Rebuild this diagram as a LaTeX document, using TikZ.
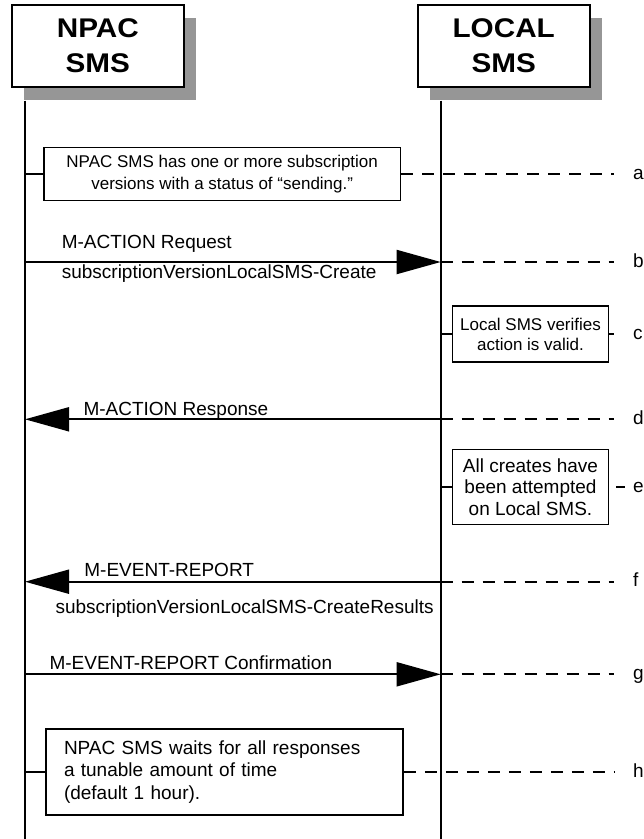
\documentclass[tikz,border=0pt]{standalone}
\usepackage{fontspec}
\setmainfont{Liberation Sans}
\newfontfamily\titlefnt[FakeStretch=1.1]{Liberation Sans}
\usetikzlibrary{arrows.meta,shadows}
\definecolor{shadowgray}{RGB}{150,150,150}
\newcommand\bodyfnt{\fontsize{19}{22.5}\selectfont}
\newcommand\smallfnt{\fontsize{17}{20}\selectfont}
\begin{document}
\begin{tikzpicture}[x=1pt,y=-1pt,
  every node/.style={font=\bodyfnt},
  titlebox/.style={draw, line width=1.7pt, fill=white, minimum width=172pt, minimum height=82.6pt,
    align=center, inner sep=0pt, font=\titlefnt\bfseries\fontsize{27}{35}\selectfont,
    drop shadow={shadow xshift=12pt, shadow yshift=-13pt, fill=shadowgray, opacity=1, draw=none}},
  life/.style={line width=1.8pt},
  msg/.style={line width=1.9pt, -{Triangle[length=44pt,width=24pt]}},
  note/.style={draw, line width=1.5pt, fill=white, inner sep=0pt, align=center},
  guide/.style={line width=1.8pt, dash pattern=on 12pt off 9pt},
  msgtext/.style={anchor=base west, inner sep=0pt},
  letter/.style={anchor=base west, inner sep=0pt}
]
\clip (0,0) rectangle (644,839);
\fill[white] (0,0) rectangle (644,839);

% title boxes
\node[titlebox] (npac) at (97.8,46) {NPAC\\SMS};
\node[titlebox] (local) at (503.7,46) {LOCAL\\SMS};

% lifelines
\coordinate (ntop) at (25,100.7);
\coordinate (nbot) at (25,839);
\coordinate (ltop) at (440.7,100.7);
\coordinate (lbot) at (440.7,839);
\coordinate (rx) at (614,0);
\draw[life] (ntop) -- (nbot);
\draw[life] (ltop) -- (lbot);

% a
\node[note, minimum width=356.4pt, minimum height=53pt, font=\fontsize{17}{22}\selectfont] (notea) at (222.2,174)
  {NPAC SMS has one or more subscription\\versions with a status of “sending.”};
\draw[life] (notea.west -| ntop) -- (notea.west);
\draw[guide] (notea.east) -- (notea.east -| rx);
\node[letter] (la) at (633,179) {a};

% b
\coordinate (nb) at (25,262);
\coordinate (lb) at (440.7,262);
\draw[msg] (nb) -- (lb);
\draw[guide] (lb) -- (lb -| rx);
\node[msgtext] (tb1) at (61.6,248.3) {M-ACTION Request};
\node[msgtext] (tb2) at (61.6,278) {subscriptionVersionLocalSMS-Create};
\node[letter] (lbb) at (633,267) {b};

% c
\node[note, minimum width=155.6pt, minimum height=56.3pt, font=\smallfnt] (notec) at (530.5,334)
  {Local SMS verifies\\action is valid.};
\draw[life] (notec.west -| ltop) -- (notec.west);
\draw[guide] (notec.east) -- (notec.east -| rx);
\node[letter] (lc) at (633,339) {c};

% d
\coordinate (nd) at (25,419.3);
\coordinate (ld) at (440.7,419.3);
\draw[msg] (ld) -- (nd);
\draw[guide] (ld) -- (ld -| rx);
\node[msgtext] (td) at (83.3,415) {M-ACTION Response};
\node[letter] (ldd) at (633,424.3) {d};

% e
\node[note, minimum width=155.6pt, minimum height=74.7pt, font=\fontsize{19}{21.7}\selectfont] (notee) at (530.5,487)
  {All creates have\\been attempted\\on Local SMS.};
\draw[life] (notee.west -| ltop) -- (notee.west);
\coordinate (ee) at (625,487);
\draw[guide, dash phase=14pt] (notee.east) -- (ee);
\node[letter] (le) at (633,492) {e};

% f
\coordinate (nf) at (25,581.7);
\coordinate (lf) at (440.7,581.7);
\draw[msg] (lf) -- (nf);
\draw[guide] (lf) -- (lf -| rx);
\node[msgtext] (tf1) at (84.2,576.7) {M-EVENT-REPORT};
\node[msgtext] (tf2) at (55.4,613) {subscriptionVersionLocalSMS-CreateResults};
\node[letter] (lff) at (633,586.7) {f};

% g
\coordinate (ng) at (25,674.3);
\coordinate (lg) at (440.7,674.3);
\draw[msg] (ng) -- (lg);
\draw[guide] (lg) -- (lg -| rx);
\node[msgtext] (tg) at (49.3,669.3) {M-EVENT-REPORT Confirmation};
\node[letter] (lgg) at (633,679.3) {g};

% h
\node[note, minimum width=357pt, minimum height=85.7pt, text width=321pt, inner xsep=18pt, align=left] (noteh) at (224.5,772)
  {NPAC SMS waits for all responses\\a tunable amount of time\\(default 1 hour).};
\draw[life] (noteh.west -| ntop) -- (noteh.west);
\draw[guide] (noteh.east) -- (noteh.east -| rx);
\node[letter] (lh) at (633,777) {h};
\end{tikzpicture}
\end{document}
